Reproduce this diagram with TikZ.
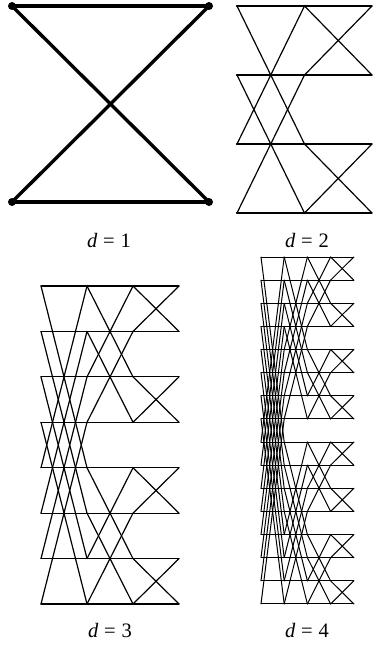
\documentclass[tikz,border=0pt]{standalone}
\usepackage{fontspec}
\setmainfont{Liberation Serif}
\begin{document}
\begin{tikzpicture}[x=1pt,y=-1pt,
  label/.style={font=\fontsize{20.5}{24}\selectfont, inner sep=0pt},
  vdot/.style={fill=black}]
\useasboundingbox (0,0) rectangle (373,646);
\foreach \D/\xo/\dx/\yo/\dy/\lw in {1/12/197/6/196/3.4, 2/237/67.5/6/69/1.2, 3/41/46/286/45.43/1.2, 4/261/23.2/257/23.13/1.0}{
  \pgfmathtruncatemacro\N{2^\D-1}
  \foreach \r in {0,...,\N}{
    \foreach \c in {0,...,\D}{
      \coordinate (b\D-\r-\c) at ({\xo+\c*\dx},{\yo+\r*\dy});
    }
  }
  \foreach \s in {1,...,\D}{
    \pgfmathtruncatemacro\dist{2^(\D-\s)}
    \pgfmathtruncatemacro\p{\s-1}
    \foreach \r in {0,...,\N}{
      \pgfmathtruncatemacro\q{mod(floor(\r/\dist),2)==0 ? \r+\dist : \r-\dist}
      \draw[line width=\lw pt, line cap=round, line join=round] (b\D-\r-\p) -- (b\D-\r-\s);
      \draw[line width=\lw pt, line cap=round, line join=round] (b\D-\r-\p) -- (b\D-\q-\s);
    }
  }
}
\foreach \r/\c in {0/0,0/1,1/0,1/1}{
  \fill[vdot] (b1-\r-\c) circle (4pt);
}
\foreach \r in {0,...,3}{
  \fill[vdot] (b2-\r-0) circle (1.2pt);
  \fill[vdot] (b2-\r-1) circle (1.2pt);
}
\node[label] (l1) at (109,240) {\textit{d}\hspace{0.28em}=\hspace{0.28em}1};
\node[label] (l2) at (307,240) {\textit{d}\hspace{0.28em}=\hspace{0.28em}2};
\node[label] (l3) at (110,630) {\textit{d}\hspace{0.28em}=\hspace{0.28em}3};
\node[label] (l4) at (307,630) {\textit{d}\hspace{0.28em}=\hspace{0.28em}4};
\end{tikzpicture}
\end{document}
